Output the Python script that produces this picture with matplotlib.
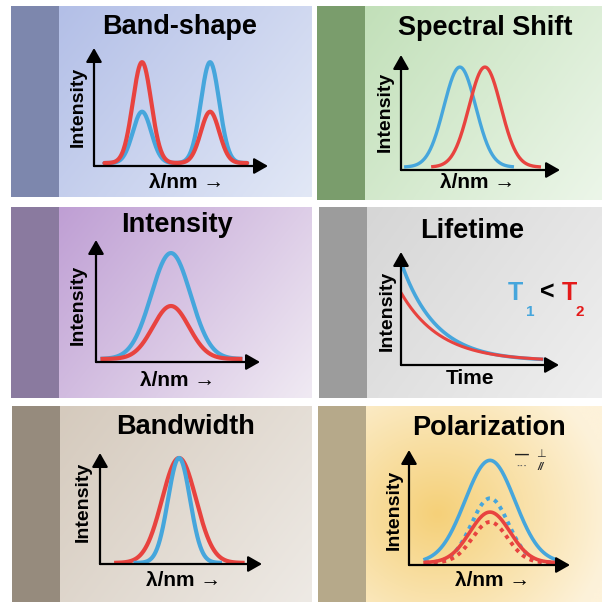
import numpy as np
import matplotlib
matplotlib.use("Agg")
import matplotlib.pyplot as plt
from matplotlib.colors import to_rgb

W, H = 604, 602
plt.rcParams['font.family'] = ['Liberation Sans', 'DejaVu Sans']

BLUE = '#46a6dc'
RED = '#e8433f'

# spectra: peaks as (centre, height, sigma) on a 0-100 axis, plus baseline
band_range = [6, 88]
band_blue = [(27.6, 43.5, 5.3), (66.7, 85.5, 5.3)]
band_red = [(27.6, 85.5, 5.3), (66.7, 43.5, 5.3)]

shift_blue_range = [3, 70]
shift_red_range = [20, 87]
shift_blue = [(37.0, 87.0, 10.0)]
shift_red = [(52.8, 87.0, 10.0)]

inten_range = [4, 88]
inten_blue = [(45.7, 86.8, 12.0)]
inten_red = [(45.7, 43.4, 11.0)]

bw_red_range = [10, 88]
bw_blue_range = [22, 74]
bw_blue = [(48.8, 94.5, 6.8)]
bw_red = [(48.8, 94.5, 10.5)]

pol_range = [10, 90]
pol_blue_perp = [(50.3, 89.0, 15.5)]
pol_blue_par = [(50.3, 56.0, 11.5)]
pol_red_perp = [(50.3, 44.0, 12.5)]
pol_red_par = [(50.3, 35.4, 11.0)]

# lifetime decays: start value, lifetime, baseline
life_range = [0, 89]
life_blue = (87.5, 22.0)
life_red = (60.5, 25.0)
life_base = 3.5

BASE = 2.5


def spectrum(x, peaks, base=BASE):
    y = np.full_like(x, base)
    for c, h, s in peaks:
        y = y + h * np.exp(-(x - c) ** 2 / (2 * s ** 2))
    return y


def px_rect(x0, y0, x1, y1):
    return [x0 / W, 1 - y1 / H, (x1 - x0) / W, (y1 - y0) / H]


def gradient(c0, c1, n=80, radial=None):
    a, b = np.array(to_rgb(c0)), np.array(to_rgb(c1))
    yy, xx = np.mgrid[0:1:n * 1j, 0:1:n * 1j]
    if radial is None:
        t = (xx * 0.75 + yy * 0.45) / 1.2
    else:
        cx, cy = radial
        t = np.clip(np.hypot(xx - cx, (yy - cy) * 0.9) / 0.75, 0, 1)
    return a[None, None, :] * (1 - t[..., None]) + b[None, None, :] * t[..., None]


fig = plt.figure(figsize=(W / 100, H / 100), dpi=100)
fig.patch.set_facecolor('white')

panels = [
    dict(box=(11, 6, 312, 197), strip='#7d87ad', c0='#b3bfe7', c1='#e2e8f6', title='Band-shape',
         tpos=(180, 27), plot=(94, 166, 268, 48), ylab=(78, 107), xlab=(187, 183)),
    dict(box=(317, 6, 602, 200), strip='#7a9d6c', c0='#c2e0b9', c1='#ecf6e9', title='Spectral Shift',
         tpos=(485, 28), plot=(401, 170, 560, 55), ylab=(385, 112), xlab=(478, 183)),
    dict(box=(11, 207, 312, 398), strip='#8a7a9f', c0='#bf9fd4', c1='#f0eaf3', title='Intensity',
         tpos=(177, 225), plot=(96, 362, 260, 240), ylab=(78, 305), xlab=(178, 380)),
    dict(box=(319, 207, 602, 398), strip='#9c9c9c', c0='#d6d6d6', c1='#efefef', title='Lifetime',
         tpos=(472, 231), plot=(401, 365, 559, 252), ylab=(387, 311), xlab=(470, 378)),
    dict(box=(12, 406, 312, 602), strip='#968b7d', c0='#d5cabd', c1='#eeeae5', title='Bandwidth',
         tpos=(186, 427), plot=(100, 564, 262, 453), ylab=(83, 502), xlab=(184, 580)),
    dict(box=(318, 406, 602, 602), strip='#b6a98a', c0='#f5d078', c1='#fdf2da', title='Polarization',
         tpos=(489, 428), plot=(409, 565, 570, 450), ylab=(394, 510), xlab=(493, 580), radial=(0.3, 0.55)),
]

axes = []
for p in panels:
    x0, y0, x1, y1 = p['box']
    sax = fig.add_axes(px_rect(x0, y0, x0 + 48, y1))
    sax.set_facecolor(p['strip'])
    sax.set_xticks([]); sax.set_yticks([])
    for s in sax.spines.values():
        s.set_visible(False)
    bax = fig.add_axes(px_rect(x0 + 48, y0, x1, y1))
    bax.imshow(gradient(p['c0'], p['c1'], radial=p.get('radial')), aspect='auto',
               extent=[0, 1, 0, 1], origin='upper', interpolation='bicubic')
    bax.set_axis_off()

    fig.text(p['tpos'][0] / W, 1 - p['tpos'][1] / H, p['title'], fontsize=19.5,
             fontweight='bold', ha='center', va='center')
    fig.text(p['ylab'][0] / W, 1 - p['ylab'][1] / H, 'Intensity', fontsize=14,
             fontweight='bold', rotation=90, ha='center', va='center')
    xl = 'Time' if p['title'] == 'Lifetime' else 'λ/nm →'
    fig.text(p['xlab'][0] / W, 1 - p['xlab'][1] / H, xl, fontsize=15,
             fontweight='bold', ha='center', va='center')

    ox, oy, tx, ty = p['plot']
    ax = fig.add_axes(px_rect(ox, ty, tx, oy))
    ax.set_xlim(0, 100)
    ax.set_ylim(0, 100)
    ax.set_axis_off()
    kw = dict(arrowstyle='-|>,head_length=0.7,head_width=0.4', color='black', lw=1.6,
              shrinkA=0, shrinkB=0, mutation_scale=12)
    ax.annotate('', xy=(1, 0), xytext=(0, 0), xycoords='axes fraction', arrowprops=kw)
    ax.annotate('', xy=(0, 1), xytext=(0, 0), xycoords='axes fraction', arrowprops=kw)
    axes.append(ax)

LW = 3.0

# Band-shape
x = np.linspace(*band_range, 300)
axes[0].plot(x, spectrum(x, band_blue), color=BLUE, lw=LW, solid_capstyle='round')
axes[0].plot(x, spectrum(x, band_red), color=RED, lw=LW, solid_capstyle='round')

# Spectral shift
x = np.linspace(*shift_blue_range, 300)
axes[1].plot(x, spectrum(x, shift_blue), color=BLUE, lw=2.4)
x = np.linspace(*shift_red_range, 300)
axes[1].plot(x, spectrum(x, shift_red), color=RED, lw=2.4)

# Intensity
x = np.linspace(*inten_range, 300)
axes[2].plot(x, spectrum(x, inten_blue), color=BLUE, lw=LW)
axes[2].plot(x, spectrum(x, inten_red), color=RED, lw=LW)

# Lifetime
x = np.linspace(*life_range, 300)
axes[3].plot(x, life_base + life_blue[0] * np.exp(-x / life_blue[1]), color=BLUE, lw=2.6)
axes[3].plot(x, life_base + life_red[0] * np.exp(-x / life_red[1]), color=RED, lw=2.2)
fig.text(515 / W, 1 - 293 / H, 'T', color=BLUE, fontsize=18, fontweight='bold', ha='center', va='center')
fig.text(530 / W, 1 - 312 / H, '1', color=BLUE, fontsize=11, fontweight='bold', ha='center', va='center')
fig.text(547 / W, 1 - 293 / H, '<', color='black', fontsize=18, fontweight='bold', ha='center', va='center')
fig.text(569 / W, 1 - 293 / H, 'T', color='#e41a1a', fontsize=18, fontweight='bold', ha='center', va='center')
fig.text(580 / W, 1 - 312 / H, '2', color='#e41a1a', fontsize=11, fontweight='bold', ha='center', va='center')

# Bandwidth
x = np.linspace(*bw_red_range, 300)
axes[4].plot(x, spectrum(x, bw_red, base=1.0), color=RED, lw=LW)
x = np.linspace(*bw_blue_range, 300)
axes[4].plot(x, spectrum(x, bw_blue, base=1.0), color=BLUE, lw=LW)

# Polarization
x = np.linspace(*pol_range, 300)
axes[5].plot(x, spectrum(x, pol_blue_perp, base=2.0), color=BLUE, lw=2.6)
axes[5].plot(x, spectrum(x, pol_blue_par, base=2.0), color=BLUE, lw=2.8, ls=(0, (1, 1.2)))
axes[5].plot(x, spectrum(x, pol_red_perp, base=2.0), color=RED, lw=2.6)
axes[5].plot(x, spectrum(x, pol_red_par, base=2.0), color=RED, lw=2.8, ls=(0, (1, 1.2)))
fig.text(522 / W, 1 - 455 / H, '—', color='#222222', fontsize=10, fontweight='bold',
         ha='center', va='center')
fig.text(522 / W, 1 - 467 / H, '···', color='#666666', fontsize=8, fontweight='bold',
         ha='center', va='center')
fig.text(541 / W, 1 - 454 / H, '⊥', color='#333333', fontsize=8, ha='center', va='center',
         family=['DejaVu Sans'])
fig.text(541 / W, 1 - 467 / H, '//', color='#333333', fontsize=8, fontstyle='italic',
         fontweight='bold', ha='center', va='center')

fig.savefig('out.png', dpi=100)
